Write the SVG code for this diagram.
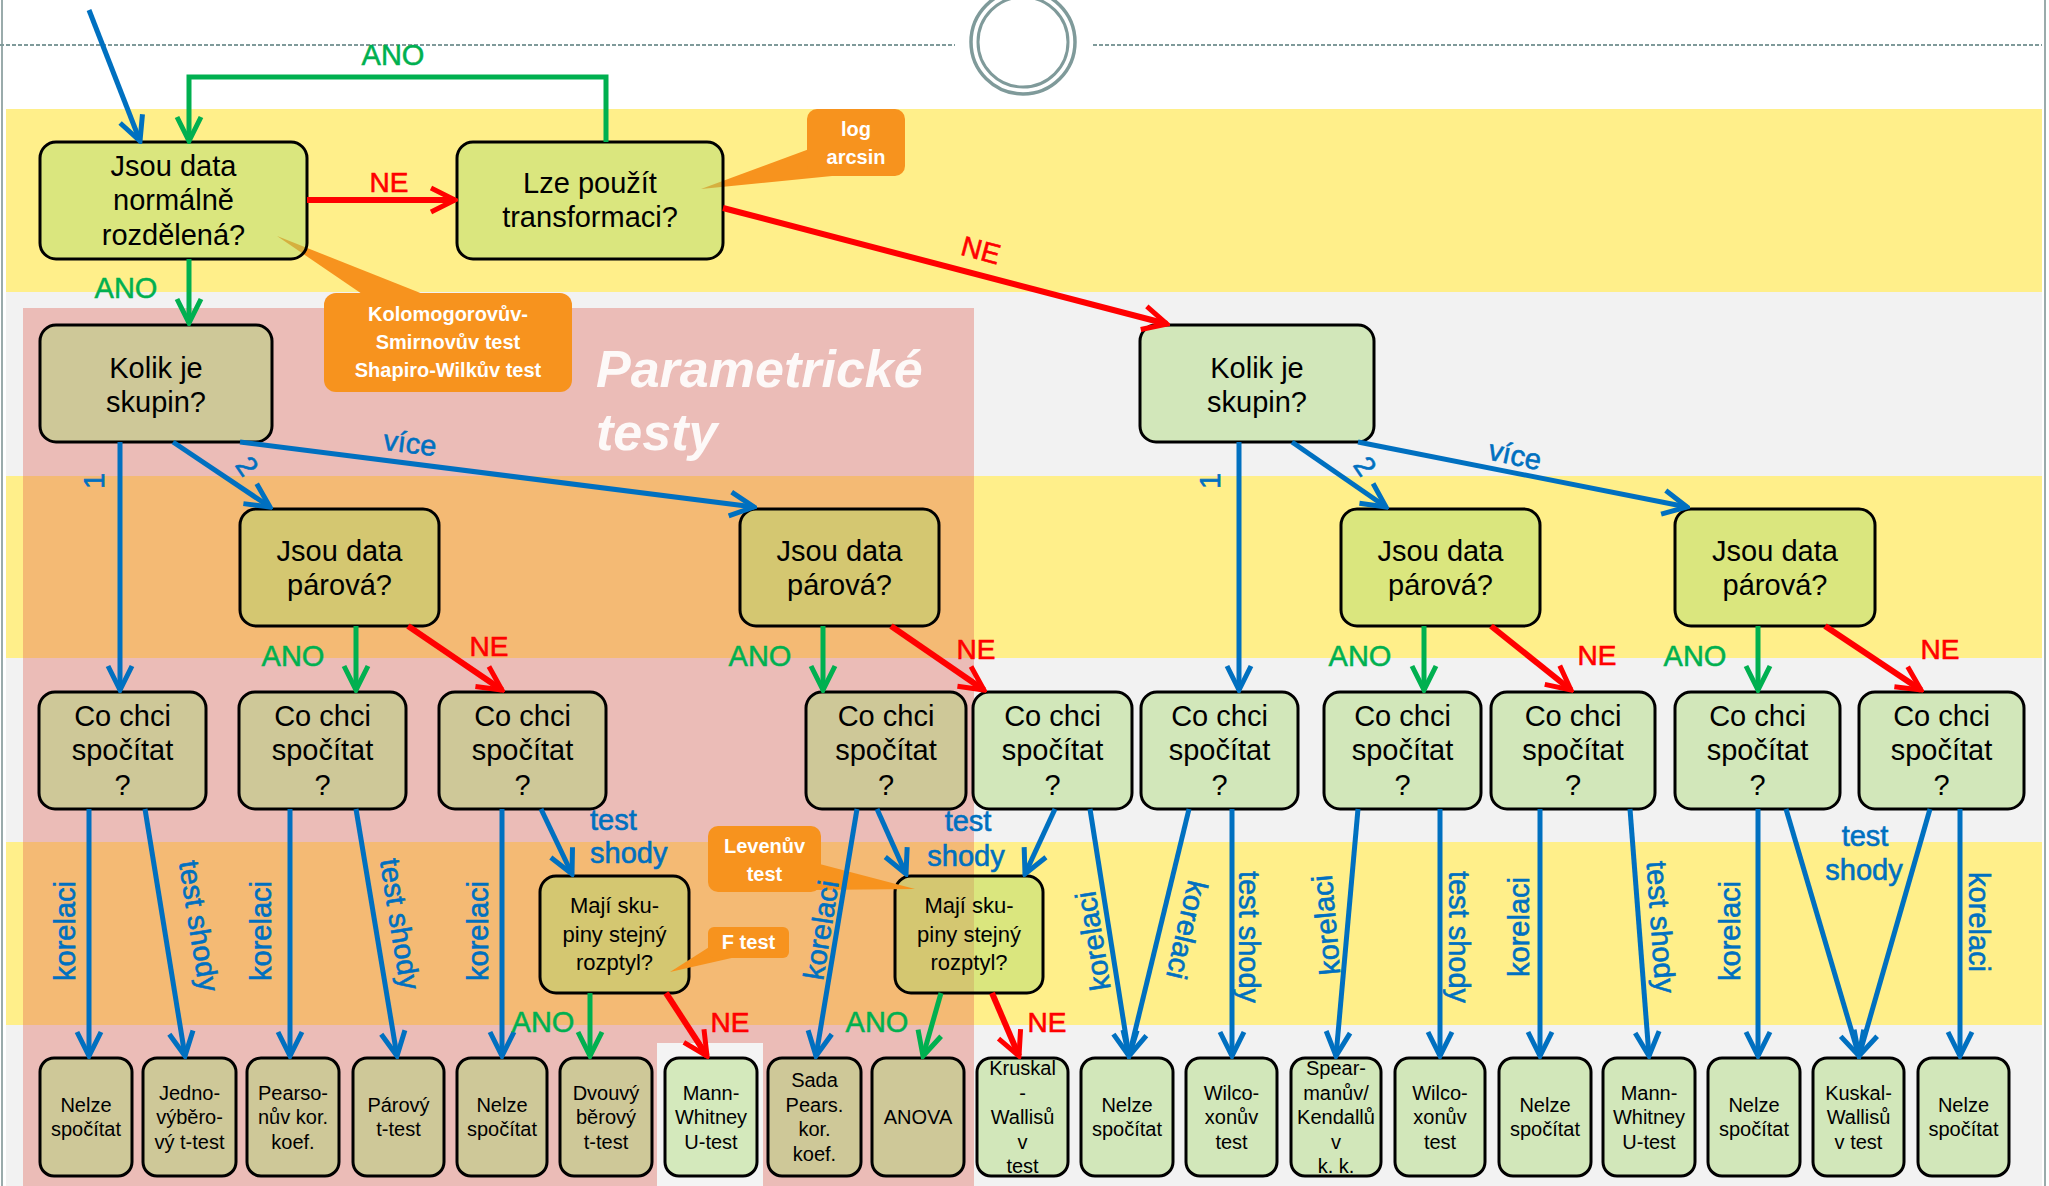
<svg xmlns="http://www.w3.org/2000/svg" width="2049" height="1186" viewBox="0 0 2049 1186">
<defs>
<style>
.nd{fill:#a6d86e;fill-opacity:0.42;stroke:#000;stroke-width:3}
.t{font-family:"Liberation Sans",Arial,sans-serif;font-size:29px;text-anchor:middle;fill:#000}
.lt{font-family:"Liberation Sans",Arial,sans-serif;font-size:20px;text-anchor:middle;fill:#000}
.mt{font-family:"Liberation Sans",Arial,sans-serif;font-size:22px;text-anchor:middle;fill:#000}
.co{fill:#f7931e}
.ct{font-family:"Liberation Sans",Arial,sans-serif;font-size:20px;font-weight:bold;text-anchor:middle;fill:#fff}
.cb{fill:none;stroke:#0070c0;stroke-width:5;marker-end:url(#ab)}
.cg{fill:none;stroke:#00b050;stroke-width:5;marker-end:url(#ag)}
.cr{fill:none;stroke:#ff0000;stroke-width:6;marker-end:url(#ar)}
.lb{font-family:"Liberation Sans",Arial,sans-serif;font-size:29px;fill:#0070c0;stroke:#0070c0;stroke-width:0.6;text-anchor:middle;dominant-baseline:central}
.lh{font-family:"Liberation Sans",Arial,sans-serif;font-size:29px;fill:#0070c0;stroke:#0070c0;stroke-width:0.6}
.lg{font-family:"Liberation Sans",Arial,sans-serif;font-size:29px;fill:#00b050;stroke:#00b050;stroke-width:0.5;text-anchor:middle}
.lr{font-family:"Liberation Sans",Arial,sans-serif;font-size:28px;fill:#ff0000;stroke:#ff0000;stroke-width:0.6;text-anchor:middle}
</style>
<marker id="ab" viewBox="0 0 30 30" refX="27" refY="15" markerWidth="30" markerHeight="30" markerUnits="userSpaceOnUse" orient="auto"><path d="M3,3 L27,15 L3,27" fill="none" stroke="#0070c0" stroke-width="5"/></marker>
<marker id="ag" viewBox="0 0 30 30" refX="27" refY="15" markerWidth="30" markerHeight="30" markerUnits="userSpaceOnUse" orient="auto"><path d="M3,3 L27,15 L3,27" fill="none" stroke="#00b050" stroke-width="5"/></marker>
<marker id="ar" viewBox="0 0 30 30" refX="27" refY="15" markerWidth="30" markerHeight="30" markerUnits="userSpaceOnUse" orient="auto"><path d="M3,3 L27,15 L3,27" fill="none" stroke="#ff0000" stroke-width="5"/></marker>
</defs>

<g id="background">
<rect x="0" y="0" width="2049" height="1186" fill="#fff"/>
<rect x="6" y="109" width="2036" height="183" fill="#ffef8a"/>
<rect x="6" y="292" width="2036" height="184" fill="#f2f2f2"/>
<rect x="6" y="476" width="2036" height="182" fill="#ffef8a"/>
<rect x="6" y="658" width="2036" height="184" fill="#f2f2f2"/>
<rect x="6" y="842" width="2036" height="183" fill="#ffef8a"/>
<rect x="6" y="1025" width="2036" height="161" fill="#f2f2f2"/>
<line x1="2" y1="0" x2="2" y2="1186" stroke="#9aabab" stroke-width="2"/>
<line x1="2045" y1="0" x2="2045" y2="1186" stroke="#9aabab" stroke-width="2"/>
<line x1="0" y1="45" x2="955" y2="45" stroke="#7f9a9a" stroke-width="2" stroke-dasharray="4 2"/>
<line x1="1093" y1="45" x2="2042" y2="45" stroke="#7f9a9a" stroke-width="2" stroke-dasharray="4 2"/>
<circle cx="1023" cy="42" r="52" fill="#fff" stroke="#7f9a9a" stroke-width="3.5"/>
<circle cx="1023" cy="42" r="45" fill="none" stroke="#7f9a9a" stroke-width="3"/>
<rect x="23" y="308" width="951" height="878" fill="#e05a4a" fill-opacity="0.35"/>
<rect x="657" y="1043" width="106" height="143" fill="#f4f4f4"/>
<text x="596" y="387" font-family="Liberation Sans, Arial, sans-serif" font-size="52" font-weight="bold" font-style="italic" fill="#fff" fill-opacity="0.9">Parametrické</text>
<text x="596" y="450" font-family="Liberation Sans, Arial, sans-serif" font-size="52" font-weight="bold" font-style="italic" fill="#fff" fill-opacity="0.9">testy</text>
</g>

<g id="callouts">
<g id="c-log"><polygon class="co" points="812,148 701,189 832,176"/><rect class="co" x="807" y="109" width="98" height="67" rx="10"/><text class="ct"><tspan x="856" y="136">log</tspan><tspan x="856" y="164">arcsin</tspan></text></g>
<g id="c-ks"><polygon class="co" points="365,296 277,236 428,296"/><rect class="co" x="324" y="293" width="248" height="99" rx="12"/><text class="ct"><tspan x="448" y="321">Kolomogorovův-</tspan><tspan x="448" y="349">Smirnovův test</tspan><tspan x="448" y="377">Shapiro-Wilkův test</tspan></text></g>
</g>

<g id="nodes">
<g id="n-normal"><rect class="nd" x="40" y="142" width="267" height="117" rx="16"/><text class="t"><tspan x="173.5" y="176">Jsou data</tspan><tspan x="173.5" y="210">normálně</tspan><tspan x="173.5" y="245">rozdělená?</tspan></text></g>
<g id="n-transf"><rect class="nd" x="457" y="142" width="266" height="117" rx="16"/><text class="t"><tspan x="590" y="193">Lze použít</tspan><tspan x="590" y="227">transformaci?</tspan></text></g>
<g id="n-kolik1"><rect class="nd" x="40" y="325" width="232" height="117" rx="16"/><text class="t"><tspan x="156" y="378">Kolik je</tspan><tspan x="156" y="412">skupin?</tspan></text></g>
<g id="n-kolik2"><rect class="nd" x="1140" y="325" width="234" height="117" rx="16"/><text class="t"><tspan x="1257" y="378">Kolik je</tspan><tspan x="1257" y="412">skupin?</tspan></text></g>
<g id="n-par1"><rect class="nd" x="240" y="509" width="199" height="117" rx="16"/><text class="t"><tspan x="339.5" y="561">Jsou data</tspan><tspan x="339.5" y="595">párová?</tspan></text></g>
<g id="n-par2"><rect class="nd" x="740" y="509" width="199" height="117" rx="16"/><text class="t"><tspan x="839.5" y="561">Jsou data</tspan><tspan x="839.5" y="595">párová?</tspan></text></g>
<g id="n-par3"><rect class="nd" x="1341" y="509" width="199" height="117" rx="16"/><text class="t"><tspan x="1440.5" y="561">Jsou data</tspan><tspan x="1440.5" y="595">párová?</tspan></text></g>
<g id="n-par4"><rect class="nd" x="1675" y="509" width="200" height="117" rx="16"/><text class="t"><tspan x="1775" y="561">Jsou data</tspan><tspan x="1775" y="595">párová?</tspan></text></g>
<g id="n-q1"><rect class="nd" x="39" y="692" width="167" height="117" rx="16"/><text class="t"><tspan x="122.5" y="726">Co chci</tspan><tspan x="122.5" y="760">spočítat</tspan><tspan x="122.5" y="795">?</tspan></text></g>
<g id="n-q2"><rect class="nd" x="239" y="692" width="167" height="117" rx="16"/><text class="t"><tspan x="322.5" y="726">Co chci</tspan><tspan x="322.5" y="760">spočítat</tspan><tspan x="322.5" y="795">?</tspan></text></g>
<g id="n-q3"><rect class="nd" x="439" y="692" width="167" height="117" rx="16"/><text class="t"><tspan x="522.5" y="726">Co chci</tspan><tspan x="522.5" y="760">spočítat</tspan><tspan x="522.5" y="795">?</tspan></text></g>
<g id="n-q4"><rect class="nd" x="806" y="692" width="160" height="117" rx="16"/><text class="t"><tspan x="886" y="726">Co chci</tspan><tspan x="886" y="760">spočítat</tspan><tspan x="886" y="795">?</tspan></text></g>
<g id="n-q5"><rect class="nd" x="973" y="692" width="159" height="117" rx="16"/><text class="t"><tspan x="1052.5" y="726">Co chci</tspan><tspan x="1052.5" y="760">spočítat</tspan><tspan x="1052.5" y="795">?</tspan></text></g>
<g id="n-q6"><rect class="nd" x="1141" y="692" width="157" height="117" rx="16"/><text class="t"><tspan x="1219.5" y="726">Co chci</tspan><tspan x="1219.5" y="760">spočítat</tspan><tspan x="1219.5" y="795">?</tspan></text></g>
<g id="n-q7"><rect class="nd" x="1324" y="692" width="157" height="117" rx="16"/><text class="t"><tspan x="1402.5" y="726">Co chci</tspan><tspan x="1402.5" y="760">spočítat</tspan><tspan x="1402.5" y="795">?</tspan></text></g>
<g id="n-q8"><rect class="nd" x="1491" y="692" width="164" height="117" rx="16"/><text class="t"><tspan x="1573" y="726">Co chci</tspan><tspan x="1573" y="760">spočítat</tspan><tspan x="1573" y="795">?</tspan></text></g>
<g id="n-q9"><rect class="nd" x="1675" y="692" width="165" height="117" rx="16"/><text class="t"><tspan x="1757.5" y="726">Co chci</tspan><tspan x="1757.5" y="760">spočítat</tspan><tspan x="1757.5" y="795">?</tspan></text></g>
<g id="n-q10"><rect class="nd" x="1859" y="692" width="165" height="117" rx="16"/><text class="t"><tspan x="1941.5" y="726">Co chci</tspan><tspan x="1941.5" y="760">spočítat</tspan><tspan x="1941.5" y="795">?</tspan></text></g>
<g id="n-var1"><rect class="nd" x="540" y="876" width="149" height="117" rx="16"/><text class="mt"><tspan x="614.5" y="913">Mají sku-</tspan><tspan x="614.5" y="942">piny stejný</tspan><tspan x="614.5" y="970">rozptyl?</tspan></text></g>
<g id="n-var2"><rect class="nd" x="895" y="876" width="148" height="117" rx="16"/><text class="mt"><tspan x="969" y="913">Mají sku-</tspan><tspan x="969" y="942">piny stejný</tspan><tspan x="969" y="970">rozptyl?</tspan></text></g>

<g id="l1"><rect class="nd" x="40" y="1058" width="92" height="118" rx="14"/><text class="lt"><tspan x="86" y="1112">Nelze</tspan><tspan x="86" y="1136">spočítat</tspan></text></g>
<g id="l2"><rect class="nd" x="143" y="1058" width="93" height="118" rx="14"/><text class="lt"><tspan x="189.5" y="1099.5">Jedno-</tspan><tspan x="189.5" y="1124">výběro-</tspan><tspan x="189.5" y="1148.5">vý t-test</tspan></text></g>
<g id="l3"><rect class="nd" x="247" y="1058" width="92" height="118" rx="14"/><text class="lt"><tspan x="293" y="1099.5">Pearso-</tspan><tspan x="293" y="1124">nův kor.</tspan><tspan x="293" y="1148.5">koef.</tspan></text></g>
<g id="l4"><rect class="nd" x="353" y="1058" width="91" height="118" rx="14"/><text class="lt"><tspan x="398.5" y="1112">Párový</tspan><tspan x="398.5" y="1136">t-test</tspan></text></g>
<g id="l5"><rect class="nd" x="457" y="1058" width="90" height="118" rx="14"/><text class="lt"><tspan x="502" y="1112">Nelze</tspan><tspan x="502" y="1136">spočítat</tspan></text></g>
<g id="l6"><rect class="nd" x="560" y="1058" width="92" height="118" rx="14"/><text class="lt"><tspan x="606" y="1099.5">Dvouvý</tspan><tspan x="606" y="1124">běrový</tspan><tspan x="606" y="1148.5">t-test</tspan></text></g>
<g id="l7"><rect class="nd" x="665" y="1058" width="92" height="118" rx="14"/><text class="lt"><tspan x="711" y="1099.5">Mann-</tspan><tspan x="711" y="1124">Whitney</tspan><tspan x="711" y="1148.5">U-test</tspan></text></g>
<g id="l8"><rect class="nd" x="768" y="1058" width="93" height="118" rx="14"/><text class="lt"><tspan x="814.5" y="1087">Sada</tspan><tspan x="814.5" y="1111.5">Pears.</tspan><tspan x="814.5" y="1136">kor.</tspan><tspan x="814.5" y="1160.5">koef.</tspan></text></g>
<g id="l9"><rect class="nd" x="872" y="1058" width="92" height="118" rx="14"/><text class="lt"><tspan x="918" y="1124">ANOVA</tspan></text></g>
<g id="l10"><rect class="nd" x="977" y="1058" width="91" height="118" rx="14"/><text class="lt"><tspan x="1022.5" y="1075">Kruskal</tspan><tspan x="1022.5" y="1099.5">-</tspan><tspan x="1022.5" y="1124">Wallisů</tspan><tspan x="1022.5" y="1148.5">v</tspan><tspan x="1022.5" y="1173">test</tspan></text></g>
<g id="l11"><rect class="nd" x="1081" y="1058" width="92" height="118" rx="14"/><text class="lt"><tspan x="1127" y="1112">Nelze</tspan><tspan x="1127" y="1136">spočítat</tspan></text></g>
<g id="l12"><rect class="nd" x="1186" y="1058" width="91" height="118" rx="14"/><text class="lt"><tspan x="1231.5" y="1099.5">Wilco-</tspan><tspan x="1231.5" y="1124">xonův</tspan><tspan x="1231.5" y="1148.5">test</tspan></text></g>
<g id="l13"><rect class="nd" x="1291" y="1058" width="90" height="118" rx="14"/><text class="lt"><tspan x="1336" y="1075">Spear-</tspan><tspan x="1336" y="1099.5">manův/</tspan><tspan x="1336" y="1124">Kendallů</tspan><tspan x="1336" y="1148.5">v</tspan><tspan x="1336" y="1173">k. k.</tspan></text></g>
<g id="l14"><rect class="nd" x="1395" y="1058" width="90" height="118" rx="14"/><text class="lt"><tspan x="1440" y="1099.5">Wilco-</tspan><tspan x="1440" y="1124">xonův</tspan><tspan x="1440" y="1148.5">test</tspan></text></g>
<g id="l15"><rect class="nd" x="1499" y="1058" width="92" height="118" rx="14"/><text class="lt"><tspan x="1545" y="1112">Nelze</tspan><tspan x="1545" y="1136">spočítat</tspan></text></g>
<g id="l16"><rect class="nd" x="1603" y="1058" width="92" height="118" rx="14"/><text class="lt"><tspan x="1649" y="1099.5">Mann-</tspan><tspan x="1649" y="1124">Whitney</tspan><tspan x="1649" y="1148.5">U-test</tspan></text></g>
<g id="l17"><rect class="nd" x="1708" y="1058" width="92" height="118" rx="14"/><text class="lt"><tspan x="1754" y="1112">Nelze</tspan><tspan x="1754" y="1136">spočítat</tspan></text></g>
<g id="l18"><rect class="nd" x="1813" y="1058" width="91" height="118" rx="14"/><text class="lt"><tspan x="1858.5" y="1099.5">Kuskal-</tspan><tspan x="1858.5" y="1124">Wallisů</tspan><tspan x="1858.5" y="1148.5">v test</tspan></text></g>
<g id="l19"><rect class="nd" x="1918" y="1058" width="91" height="118" rx="14"/><text class="lt"><tspan x="1963.5" y="1112">Nelze</tspan><tspan x="1963.5" y="1136">spočítat</tspan></text></g>
</g>

<g id="callouts2">
<g id="c-levene"><polygon class="co" points="812,862 915,889 812,890"/><rect class="co" x="708" y="826" width="113" height="66" rx="10"/><text class="ct"><tspan x="764.5" y="853">Levenův</tspan><tspan x="764.5" y="881">test</tspan></text></g>
<g id="c-f"><polygon class="co" points="714,944 670,972 736,957"/><rect class="co" x="708" y="927" width="81" height="31" rx="6"/><text class="ct"><tspan x="748.5" y="949">F test</tspan></text></g>
</g>

<g id="connectors">
<path class="cb" d="M89,10 L140,141"/>
<path class="cg" d="M606,142 V77 H189 V141"/>
<path class="cr" d="M307,200 H455"/>
<path class="cr" d="M723,208 L1167,324"/>
<path class="cg" d="M189,259 V323"/>
<path class="cb" d="M120,442 V690"/>
<path class="cb" d="M173,442 L270,507"/>
<path class="cb" d="M240,442 L754,507"/>
<path class="cb" d="M1239,442 V690"/>
<path class="cb" d="M1292,442 L1386,507"/>
<path class="cb" d="M1358,442 L1687,507"/>
<path class="cg" d="M356,626 V690"/>
<path class="cr" d="M408,626 L502,690"/>
<path class="cg" d="M823,626 V690"/>
<path class="cr" d="M891,626 L984,690"/>
<path class="cg" d="M1424,626 V690"/>
<path class="cr" d="M1491,626 L1571,690"/>
<path class="cg" d="M1758,626 V690"/>
<path class="cr" d="M1825,626 L1921,690"/>
<path class="cb" d="M89,809 V1056"/>
<path class="cb" d="M145,809 L185,1056"/>
<path class="cb" d="M290,809 V1056"/>
<path class="cb" d="M356,809 L397,1056"/>
<path class="cb" d="M502,809 V1056"/>
<path class="cb" d="M541,809 L572,874"/>
<path class="cg" d="M590,993 V1056"/>
<path class="cr" d="M666,993 L707,1056"/>
<path class="cb" d="M857,809 L816,1056"/>
<path class="cb" d="M877,809 L906,874"/>
<path class="cg" d="M941,993 L923,1056"/>
<path class="cr" d="M992,993 L1019,1056"/>
<path class="cb" d="M1055,809 L1025,874"/>
<path class="cb" d="M1090,809 L1129,1056"/>
<path class="cb" d="M1189,809 L1129,1056"/>
<path class="cb" d="M1232,809 V1056"/>
<path class="cb" d="M1358,809 L1336,1056"/>
<path class="cb" d="M1440,809 V1056"/>
<path class="cb" d="M1540,809 V1056"/>
<path class="cb" d="M1630,809 L1649,1056"/>
<path class="cb" d="M1758,809 V1056"/>
<path class="cb" d="M1786,809 L1859,1056"/>
<path class="cb" d="M1930,809 L1859,1056"/>
<path class="cb" d="M1960,809 V1056"/>
</g>

<g id="labels">
<text class="lg" x="393" y="65">ANO</text>
<text class="lr" x="389" y="192">NE</text>
<text class="lr" x="981" y="260" transform="rotate(15 981 250)">NE</text>
<text class="lg" x="126" y="298">ANO</text>
<text class="lg" x="293" y="666">ANO</text>
<text class="lr" x="489" y="656">NE</text>
<text class="lg" x="760" y="666">ANO</text>
<text class="lr" x="976" y="659">NE</text>
<text class="lg" x="1360" y="666">ANO</text>
<text class="lr" x="1597" y="665">NE</text>
<text class="lg" x="1695" y="666">ANO</text>
<text class="lr" x="1940" y="659">NE</text>
<text class="lg" x="543" y="1032">ANO</text>
<text class="lr" x="730" y="1032">NE</text>
<text class="lg" x="877" y="1032">ANO</text>
<text class="lr" x="1047" y="1032">NE</text>
<text class="lb" x="94" y="481" font-size="20" transform="rotate(-90 94 481)">1</text>
<text class="lb" x="247" y="466" font-size="20" transform="rotate(56 247 466)">2</text>
<text class="lb" x="410" y="443" font-size="27" transform="rotate(7 410 443)">více</text>
<text class="lb" x="1210" y="481" font-size="20" transform="rotate(-90 1210 481)">1</text>
<text class="lb" x="1365" y="466" font-size="20" transform="rotate(56 1365 466)">2</text>
<text class="lb" x="1515" y="455" font-size="27" transform="rotate(12 1515 455)">více</text>
<text class="lb" x="65" y="931" transform="rotate(-90 65 931)">korelaci</text>
<text class="lb" x="199" y="926" transform="rotate(81 199 926)">test shody</text>
<text class="lb" x="261" y="931" transform="rotate(-90 261 931)">korelaci</text>
<text class="lb" x="400" y="924" transform="rotate(81 400 924)">test shody</text>
<text class="lb" x="478" y="931" transform="rotate(-90 478 931)">korelaci</text>
<text class="lh" x="590" y="830">test</text>
<text class="lh" x="590" y="863">shody</text>
<text class="lb" x="821" y="930" transform="rotate(-81 821 930)">korelaci</text>
<text class="lh" x="968" y="831" text-anchor="middle">test</text>
<text class="lh" x="966" y="866" text-anchor="middle">shody</text>
<text class="lb" x="1093" y="941" transform="rotate(-99 1093 941)">korelaci</text>
<text class="lb" x="1187" y="930" transform="rotate(103 1187 930)">korelaci</text>
<text class="lb" x="1249" y="937" transform="rotate(90 1249 937)">test shody</text>
<text class="lb" x="1326" y="925" transform="rotate(-95 1326 925)">korelaci</text>
<text class="lb" x="1459" y="937" transform="rotate(90 1459 937)">test shody</text>
<text class="lb" x="1519" y="927" transform="rotate(-90 1519 927)">korelaci</text>
<text class="lb" x="1661" y="927" transform="rotate(86 1661 927)">test shody</text>
<text class="lb" x="1730" y="931" transform="rotate(-90 1730 931)">korelaci</text>
<text class="lh" x="1865" y="846" text-anchor="middle">test</text>
<text class="lh" x="1864" y="880" text-anchor="middle">shody</text>
<text class="lb" x="1979" y="922" transform="rotate(90 1979 922)">korelaci</text>
</g>
</svg>
